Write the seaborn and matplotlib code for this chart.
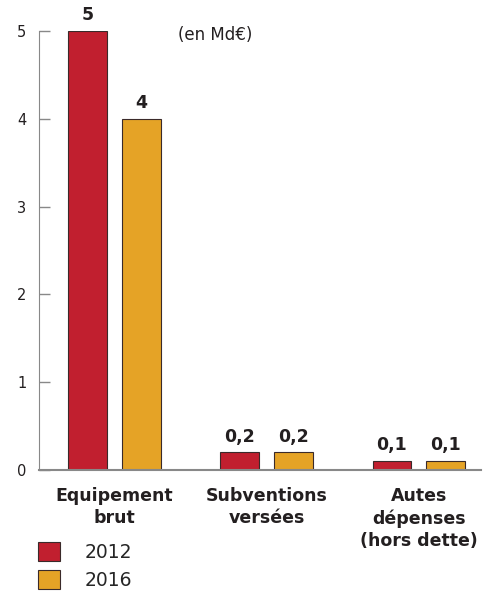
import pandas as pd
import matplotlib.pyplot as plt
import seaborn as sns

categories = ["Equipement\nbrut", "Subventions\nversées", "Autes\ndépenses\n(hors dette)"]
years = ["2012", "2016"]
values_2012 = [5.0, 0.2, 0.1]
values_2016 = [4.0, 0.2, 0.1]
colors = ["#C11F2F", "#E5A326"]

df = pd.DataFrame({
    "Categorie": categories * 2,
    "Annee": [years[0]] * 3 + [years[1]] * 3,
    "Valeur": values_2012 + values_2016,
})

sns.set_style("white")
plt.rcParams["font.family"] = ["DejaVu Sans"]

fig = plt.figure(figsize=(4.91, 5.92), dpi=100)
ax = fig.add_axes([0.0794, 0.206, 0.9006, 0.7416])

sns.barplot(data=df, x="Categorie", y="Valeur", hue="Annee", palette=colors,
            saturation=1, width=0.706, gap=0.28, edgecolor="#3a2a2a",
            linewidth=0.8, ax=ax, legend=True)

for cont in ax.containers:
    labels = [f"{v:g}".replace(".", ",") for v in cont.datavalues]
    ax.bar_label(cont, labels=labels, padding=5, fontsize=12.5,
                 fontweight="bold", color="#231f20")

ax.set_ylim(0, 5)
ax.set_xlim(-0.495, 2.41)
ax.set_yticks([0, 1, 2, 3, 4, 5])
ax.tick_params(axis="y", left=True, direction="in", length=8, width=1,
               color="#888888", labelsize=10.5, labelcolor="#231f20", pad=9)
ax.tick_params(axis="x", length=0, labelsize=12.5, pad=12)
for lab in ax.get_xticklabels():
    lab.set_fontweight("bold")
    lab.set_color("#231f20")
    lab.set_verticalalignment("top")
    lab.set_linespacing(1.3)
ax.set_xlabel("")
ax.set_ylabel("")
sns.despine(ax=ax, top=True, right=True)
ax.spines["left"].set_color("#888888")
ax.spines["bottom"].set_color("#888888")
ax.spines["bottom"].set_linewidth(1.5)

ax.text(0.315, 0.99, "(en Md€)", transform=ax.transAxes, fontsize=12,
        color="#231f20", ha="left", va="center")

handles, labs = ax.get_legend_handles_labels()
ax.get_legend().remove()
fig.legend(handles, labs, loc="upper left", bbox_to_anchor=(0.077, 0.085),
           frameon=False, fontsize=13.5, handlelength=1.2, handleheight=1.2,
           handletextpad=1.3, labelspacing=0.45, borderaxespad=0,
           borderpad=0)

fig.savefig("out.png", dpi=100)
